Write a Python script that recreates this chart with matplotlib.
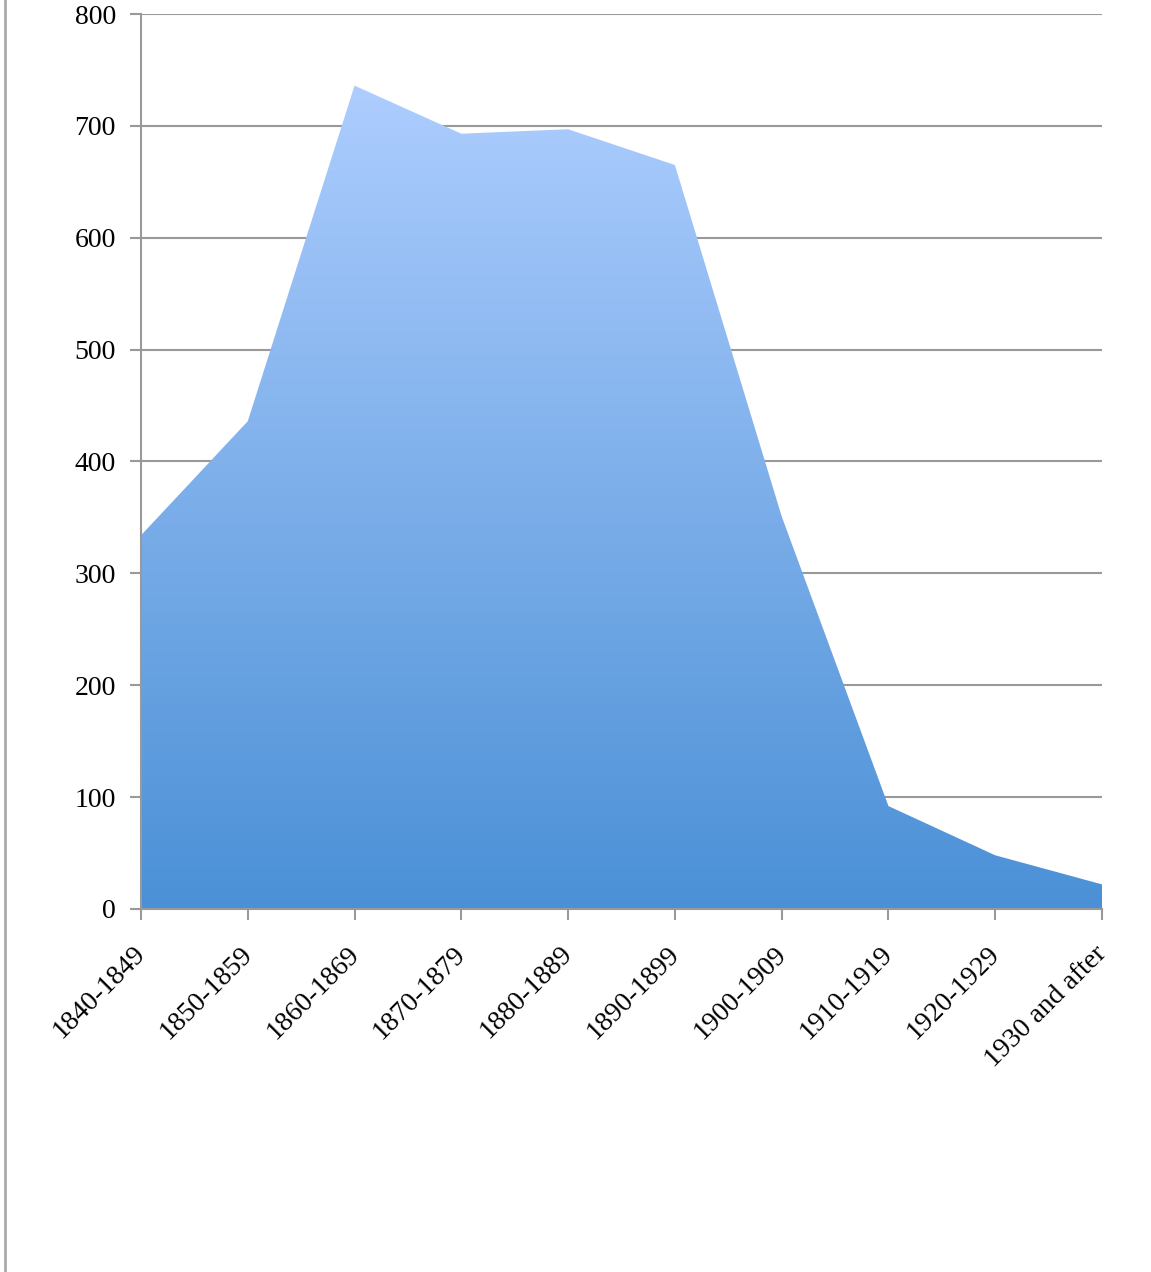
import matplotlib.pyplot as plt
import matplotlib.transforms as mtransforms
import numpy as np
from matplotlib.colors import LinearSegmentedColormap
from matplotlib.lines import Line2D

# decade buckets and counts
decades = ['1840-1849', '1850-1859', '1860-1869', '1870-1879', '1880-1889',
           '1890-1899', '1900-1909', '1910-1919', '1920-1929', '1930 and after']
counts = [334, 436, 736, 693, 697, 665, 351, 92, 48, 22]
y_ticks = [0, 100, 200, 300, 400, 500, 600, 700, 800]

plt.rcParams['font.family'] = ['Liberation Serif', 'DejaVu Serif']

fig = plt.figure(figsize=(11.51, 12.72), dpi=100)
ax = fig.add_axes([141 / 1151, 1 - 909 / 1272, (1102 - 141) / 1151, (909 - 14) / 1272])

x = np.arange(len(decades))

# grid behind the area
for yv in y_ticks[1:]:
    ax.axhline(yv, color='#999999', lw=1.5, zorder=1)

# gradient filled area
poly = ax.fill_between(x, counts, 0, color='none', lw=0, zorder=2)
cmap = LinearSegmentedColormap.from_list('blues', ['#4b90d6', '#adcdfe'])
grad = np.linspace(0, 1, 256).reshape(-1, 1)
img = ax.imshow(grad, cmap=cmap, aspect='auto', origin='lower',
                extent=[0, len(decades) - 1, 0, max(counts)], zorder=2)
img.set_clip_path(poly.get_paths()[0], transform=ax.transData)
ax.set_xlim(0, len(decades) - 1)
ax.set_ylim(0, 800)

for s in ['top', 'right']:
    ax.spines[s].set_visible(False)
for s in ['left', 'bottom']:
    ax.spines[s].set_color('#999999')
    ax.spines[s].set_linewidth(1.5)
    ax.spines[s].set_zorder(3)

ax.set_yticks(y_ticks)
ax.set_yticklabels([str(v) for v in y_ticks], fontsize=20)
ax.set_xticks(x)
ax.set_xticklabels(decades, fontsize=20, rotation=45, ha='right',
                   rotation_mode='anchor')
ax.tick_params(axis='both', color='#999999', width=1.5, length=8, direction='out')
ax.tick_params(axis='y', pad=10)
ax.tick_params(axis='x', pad=6)

# nudge rotated labels down/left like the original
shift = mtransforms.ScaledTranslation(-8 / 100, -13 / 100, fig.dpi_scale_trans)
for lab in ax.get_xticklabels():
    lab.set_transform(lab.get_transform() + shift)

# frame line at the left edge of the page
fig.add_artist(Line2D([4.5 / 1151, 4.5 / 1151], [0, 1], color='#aaaaaa', lw=2,
                      transform=fig.transFigure))

fig.savefig('out.png', dpi=100)
